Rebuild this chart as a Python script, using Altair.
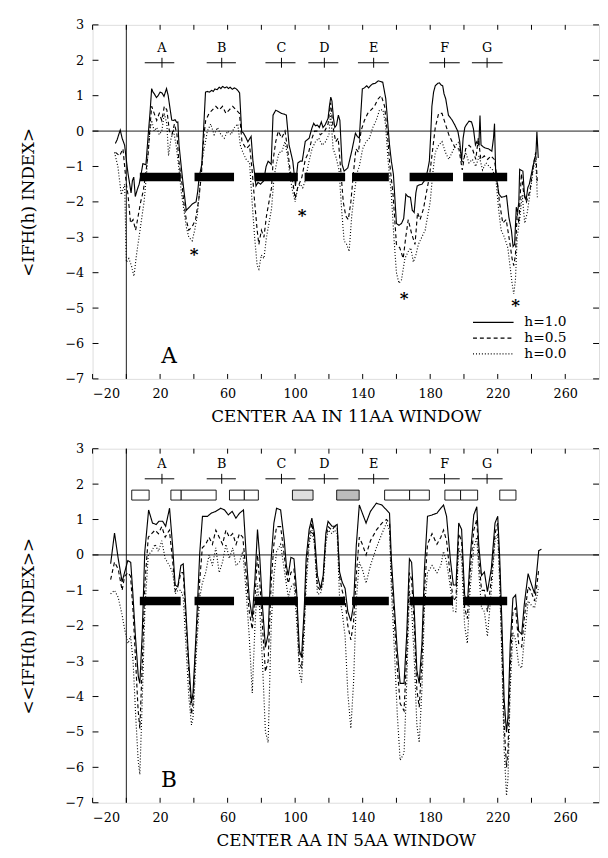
import altair as alt
import pandas as pd

FONT = "DejaVu Serif"

# ---------------- data ----------------
SERIES = ["h=1.0", "h=0.5", "h=0.0"]

# Panel A: 11-residue window
A_H10 = [(-6.5,-0.35),(-5.5,-0.25),(-4.5,-0.1),(-3.6,0.03),(-2.5,-0.2),(-1.0,-0.4),(0.2,-0.9),(1.0,-1.2),(2.0,-1.5),(2.8,-1.75),(3.6,-1.4),(4.4,-1.3),(5.3,-1.85),(6.5,-1.65),(7.6,-1.5),(8.8,-1.2),(9.8,-0.92),(11.6,-0.95),(12.8,-0.2),(14.0,0.5),(15.0,1.2),(15.8,1.1),(16.6,1.05),(17.8,0.95),(18.8,1.0),(20.0,1.1),(21.1,1.08),(22.3,0.98),(23.8,1.2),(24.8,1.0),(25.6,0.73),(26.9,0.31),(27.8,0.3),(28.9,0.32),(29.8,0.25),(30.5,0.26),(31.2,-0.39),(32.8,-1.13),(34.1,-1.68),(35.5,-2.24),(37.3,-2.15),(39.1,-2.06),(41.3,-2.0),(42.3,-1.7),(43.1,-1.31),(44.7,-0.94),(45.8,0.08),(46.9,1.1),(48.0,1.12),(49.2,1.1),(50.5,1.15),(51.5,1.12),(52.5,1.19),(53.8,1.17),(55.0,1.24),(56.0,1.2),(57.0,1.26),(58.3,1.22),(59.5,1.25),(60.5,1.2),(61.5,1.24),(62.8,1.18),(64.0,1.22),(64.9,1.2),(66.0,1.15),(67.1,1.08),(68.3,-0.01),(69.3,-0.05),(70.5,-0.15),(72.0,-0.3),(73.9,-0.15),(75.0,-0.85),(76.0,-1.2),(76.8,-1.55),(78.0,-1.45),(79.5,-1.5),(81.3,-1.41),(82.8,-1.0),(84.0,-0.85),(85.8,-0.94),(86.9,0.45),(88.5,0.59),(90.0,0.55),(91.9,0.5),(93.5,0.48),(94.8,0.45),(96.4,-0.39),(98.6,-0.85),(100.2,-1.55),(101.6,-0.9),(103.0,-0.85),(104.2,-0.85),(106.0,-0.29),(108.3,-0.2),(109.9,0.08),(111.0,0.22),(112.0,0.15),(113.2,0.17),(114.3,0.1),(115.5,0.26),(116.5,0.1),(117.7,0.17),(119.5,0.36),(120.3,0.7),(121.1,0.96),(121.8,0.85),(122.7,0.36),(123.5,0.1),(124.5,0.17),(125.6,0.45),(126.5,0.3),(127.8,-0.94),(129.0,-1.13),(131.2,-1.04),(133.5,-0.57),(135.7,-0.06),(136.8,-0.15),(138.0,-0.2),(139.8,1.19),(141.0,1.22),(142.4,1.28),(143.5,1.22),(145.0,1.3),(145.8,1.33),(147.5,1.35),(149.2,1.42),(150.5,1.4),(151.9,1.38),(153.7,0.91),(155.9,-0.39),(157.0,-0.85),(158.2,-1.22),(160.0,-2.61),(161.5,-2.66),(163.0,-2.61),(164.3,-2.47),(165.6,-1.78),(166.8,-1.85),(168.3,-1.87),(169.4,-2.24),(170.5,-2.3),(171.5,-1.75),(172.3,-1.55),(173.5,-1.52),(175.1,-1.5),(177.2,-1.36),(178.5,-1.1),(179.5,-0.85),(180.3,-0.11),(181.0,0.7),(182.0,1.1),(183.0,1.28),(184.5,1.35),(185.5,1.36),(186.5,1.3),(187.4,1.28),(188.2,1.05),(189.2,0.91),(190.8,0.45),(193.0,0.31),(194.6,0.17),(196.4,-0.01),(197.5,-0.3),(198.6,-0.85),(199.5,-0.2),(200.5,0.1),(201.3,0.17),(203.0,0.28),(204.5,0.26),(205.6,0.07),(206.8,-0.39),(207.6,-0.3),(208.8,-0.4),(209.5,0.44),(210.1,-0.39),(211.5,-0.45),(212.7,-0.48),(214.5,-0.5),(216.5,-0.57),(217.5,-0.2),(218.1,0.21),(218.8,-1.2),(219.8,-1.5),(220.7,-1.78),(222.3,-1.87),(224.0,-1.85),(225.2,-1.82),(226.6,-2.43),(228.1,-2.8),(229.1,-3.26),(230.0,-3.2),(231.0,-2.15),(231.8,-2.3),(232.5,-2.0),(233.0,-1.08),(234.9,-1.13),(235.8,-1.78),(236.8,-1.96),(237.8,-1.6),(238.7,-1.5),(240.7,-1.04),(242.0,-0.75),(242.6,-0.67),(243.2,-0.02),(244.0,-0.76)]

A_H05 = [(-6.4,-0.6),(-4,-0.7),(-2,-0.5),(0,-1.5),(1,-1.8),(2.5,-2.6),(4,-2.5),(5.5,-2.8),(7,-2.4),(8.5,-2.0),(10,-1.7),(11.5,-1.2),(13,-0.6),(14,0.1),(15,0.7),(16.5,0.5),(18,0.3),(19.5,0.5),(21,0.3),(22.5,0.7),(24,0.6),(25.5,0.0),(27,-0.1),(28.5,0.2),(30,-0.1),(31,-0.8),(33,-1.5),(34,-2.0),(35.5,-2.5),(37,-2.8),(39,-2.7),(41,-2.5),(43,-1.9),(44.5,-1.2),(46,-0.1),(47,0.3),(49,0.5),(51,0.6),(53,0.7),(55,0.6),(57,0.7),(59,0.5),(61,0.6),(63,0.7),(65,0.6),(67,0.5),(68.5,-0.3),(71,-0.5),(73,-0.4),(74.5,-1.1),(76,-2.0),(77.5,-2.8),(78.5,-3.2),(80,-2.8),(81.5,-3.0),(83,-2.4),(84.5,-2.0),(86,-1.6),(87,-0.8),(88.5,-0.3),(90,0.0),(92,-0.2),(94,0.0),(95.5,-0.5),(97,-1.1),(98.5,-1.4),(100,-1.9),(101.5,-1.6),(104,-1.3),(106,-0.8),(108,-0.6),(110,-0.2),(111.5,0.0),(113,0.0),(115,-0.1),(117.5,0.0),(119.5,0.2),(121,0.8),(122.5,0.1),(124,-0.3),(125.5,-0.2),(127,-1.1),(128.5,-2.0),(130,-2.4),(131.5,-2.5),(133,-2.0),(134.5,-1.2),(136,-0.5),(137.5,-0.6),(139,0.0),(141,0.3),(143,0.5),(145,0.6),(147,0.7),(149,0.9),(151,1.0),(153,0.7),(154.5,0.0),(156,-0.9),(158,-1.8),(160,-3.2),(162,-3.3),(164,-3.6),(165.5,-3.0),(167,-2.5),(169,-2.9),(171,-3.2),(172.5,-2.3),(174,-2.5),(176,-2.2),(177.5,-1.8),(179.5,-1.3),(181,-0.7),(183,0.1),(185,0.5),(187,0.5),(189,0.2),(191,-0.1),(193,-0.3),(195,-0.5),(197,-0.5),(199,-1.1),(201,-0.5),(203,-0.4),(205,-0.5),(207,-0.8),(208.5,-0.2),(210,-0.8),(212,-0.7),(214,-0.8),(216,-0.7),(218,-0.8),(219.5,-1.3),(221,-2.0),(223,-2.6),(225,-2.5),(227,-3.1),(228.5,-3.6),(229.5,-3.8),(230.5,-3.5),(231.5,-2.3),(232.5,-2.6),(234,-1.2),(235.5,-1.8),(237,-2.0),(239,-1.7),(241,-1.0),(242.5,-0.6),(243.5,-1.5)]

A_H00 = [(-7,-0.6),(-5,-1.0),(-3,-1.8),(-1,-1.5),(0,-3.7),(1.5,-3.6),(3,-3.8),(4.5,-4.1),(6,-3.5),(7.5,-3.0),(9,-2.5),(10.5,-2.0),(12,-1.2),(13,-0.5),(14,0.0),(15,0.3),(16.5,0.0),(18,0.1),(19.5,-0.1),(21,0.0),(22.5,0.5),(24,0.2),(25,-0.7),(26.5,-0.2),(28,0.0),(29.5,-0.4),(31,-1.0),(32.5,-1.7),(34,-2.2),(35.5,-2.7),(37,-3.0),(39,-3.1),(40.5,-2.8),(42,-2.4),(43.5,-1.6),(45,-0.8),(46.5,-0.4),(48,0.0),(50,0.2),(52,-0.1),(54,0.1),(56,-0.1),(58,-0.2),(60,0.0),(62,-0.1),(64,0.1),(66,0.2),(67.5,-0.4),(69,-0.6),(71,-0.8),(73,-0.9),(74.5,-2.0),(76,-3.0),(77.5,-3.8),(78.5,-3.9),(80,-3.5),(81.5,-3.6),(83,-3.0),(84.5,-2.6),(86,-2.2),(87.5,-1.3),(89,-0.9),(90.5,-0.6),(92,-0.6),(94,-0.3),(95.5,-0.7),(97,-1.3),(98.5,-1.7),(100,-2.0),(101.5,-1.6),(103,-1.5),(104.5,-1.6),(106,-1.4),(108,-0.9),(110,-0.5),(112,-0.3),(114,-0.2),(116,-0.4),(118,-0.3),(120,-0.1),(121,0.5),(122.5,-0.5),(124,-0.7),(126,-1.1),(127.5,-2.2),(129,-3.1),(130.5,-3.2),(132,-3.4),(133.5,-2.4),(135,-1.8),(136.5,-1.2),(138,-1.0),(140,-0.5),(142,-0.3),(144,-0.2),(146,0.1),(148,0.3),(150,0.6),(152,0.6),(153.5,0.2),(155,-0.8),(157,-1.8),(158.5,-3.0),(160,-4.0),(161.5,-4.3),(163,-4.2),(165,-3.6),(167,-3.4),(168.5,-3.3),(170,-3.7),(171.5,-3.5),(173,-3.2),(175,-3.0),(177,-2.8),(178.5,-2.4),(180,-2.0),(181.5,-1.2),(183,-0.6),(185,-0.4),(187,-0.3),(189,-0.6),(191,-0.8),(193,-0.6),(195,-0.4),(197,-0.3),(199,-0.9),(201,-0.6),(203,-0.9),(205,-0.8),(207,-1.0),(209,-0.7),(211,-1.1),(213,-0.9),(215,-1.0),(217,-1.1),(219,-1.4),(220.5,-2.2),(222,-2.8),(224,-3.0),(226,-3.3),(227.5,-3.9),(228.5,-4.3),(229.5,-4.6),(230.5,-4.2),(231.5,-3.0),(233,-2.5),(234.5,-1.8),(236,-2.6),(237.5,-2.3),(239,-1.8),(241,-1.1),(242.5,-0.8),(243.5,-1.9)]

# Panel B: 5-residue window
B_H10 = [(-9.3,-0.25),(-7.0,0.62),(-4.8,-0.11),(-2.5,-0.76),(-0.95,-0.48),(0.87,-0.16),(2.6,-0.21),(3.8,-1.04),(5.3,-2.24),(7.1,-3.44),(8.0,-3.63),(9.4,-2.24),(10.9,0.07),(13.2,1.27),(15.5,0.9),(17.7,0.86),(19.3,0.95),(21.5,0.95),(23.3,0.81),(25.6,1.32),(27.4,0.26),(28.9,-0.85),(30.5,-0.9),(32.3,-0.3),(33.7,-0.25),(35.0,-1.32),(36.8,-2.89),(38.6,-4.18),(39.5,-3.9),(41.3,-2.24),(43.5,0.07),(45.1,1.09),(48.1,1.09),(50.3,1.18),(53.0,1.23),(55.9,1.32),(58.2,1.27),(60.4,1.13),(62.7,1.23),(64.9,1.04),(67.1,1.18),(69.4,1.27),(70.9,0.07),(72.8,-1.22),(74.6,-1.78),(76.2,-0.67),(77.7,0.72),(79.1,-0.11),(80.6,-1.41),(82.4,-2.61),(84.0,-2.24),(85.8,-0.11),(87.4,0.9),(89.0,1.32),(91.4,1.27),(93.5,0.44),(94.8,-0.3),(95.9,-0.58),(97.5,-0.07),(99.3,-0.11),(100.9,-1.04),(102.5,-2.7),(103.8,-2.89),(105.4,-1.5),(106.5,-0.11),(108.3,0.72),(109.9,1.04),(111.4,0.62),(113.2,-0.58),(115.0,-0.95),(116.6,-0.58),(118.2,0.62),(119.5,0.95),(121.8,0.81),(123.3,0.81),(124.9,0.86),(126.3,-0.48),(127.8,-0.76),(129.6,-0.95),(131.2,-1.6),(133.0,-1.87),(134.6,-1.41),(136.2,0.26),(138.0,1.41),(139.8,1.18),(142.0,0.9),(144.6,1.23),(148.1,1.46),(151.4,1.41),(154.1,1.27),(155.9,1.18),(157.0,-0.11),(158.7,-1.41),(160.5,-2.7),(162.2,-3.63),(164.5,-3.63),(166.1,-2.24),(167.7,-0.11),(169.0,-0.21),(170.6,-1.6),(172.1,-3.26),(173.5,-3.63),(175.1,-2.52),(176.6,-0.39),(178.4,1.09),(181.1,1.13),(184.0,1.18),(186.3,1.32),(187.9,1.41),(189.7,1.09),(191.9,-0.11),(193.7,-0.85),(195.3,-0.85),(196.9,0.9),(198.6,0.72),(200.4,-1.13),(202.0,-1.41),(203.6,-0.11),(205.8,1.13),(207.6,1.36),(208.8,0.26),(210.4,-0.58),(212.1,-0.48),(213.9,-1.04),(216.2,-0.39),(218.4,0.9),(220.0,1.09),(221.2,-0.11),(222.5,-1.96),(223.8,-4.09),(225.2,-5.01),(226.1,-4.55),(227.4,-2.52),(229.0,-1.22),(230.6,-1.13),(232.4,-2.15),(234.2,-2.24),(235.7,-1.41),(238.0,-0.53),(239.5,-0.76),(241.8,-1.09),(243.1,-0.48),(244.3,0.12),(245.9,0.16)]

B_H05 = [(-9.3,-0.7),(-7,-0.2),(-4.8,-0.4),(-2.5,-1.0),(-1,-0.6),(1,-0.5),(2.5,-0.6),(4,-1.6),(5.5,-3.0),(7,-4.4),(8,-4.9),(9.5,-3.0),(11,-0.8),(13,0.5),(15,0.6),(17,0.7),(19,0.6),(21,0.8),(23,0.5),(25.5,0.7),(27.5,-0.2),(29,-1.0),(30.5,-0.9),(32.3,-0.5),(33.7,-0.5),(35,-1.6),(37,-3.3),(38.6,-4.5),(39.5,-4.2),(41.3,-2.5),(43.5,-0.7),(45,0.2),(47,0.3),(49,0.5),(51,0.3),(53,0.7),(55,0.5),(57,0.3),(59,0.7),(61,0.5),(63,0.6),(65,0.3),(67,0.6),(69,0.5),(70.9,-0.5),(72.8,-1.6),(74.6,-2.1),(76.2,-1.2),(77.7,0.0),(79.1,-0.8),(80.6,-2.0),(82.4,-3.3),(84,-3.0),(85.8,-0.8),(87.4,0.3),(89,0.8),(91.4,0.8),(93.5,0.0),(95,-0.6),(96,-0.8),(97.5,-0.5),(99.3,-0.4),(100.9,-1.4),(102.5,-3.0),(103.8,-3.2),(105.4,-1.9),(106.5,-0.5),(108.3,0.5),(109.9,0.9),(111.4,0.4),(113.2,-0.9),(115,-1.0),(116.6,-0.7),(118.2,0.5),(119.5,0.8),(121.8,0.7),(123.3,0.8),(124.9,0.8),(126.3,-0.6),(127.8,-1.0),(129.6,-1.3),(131.2,-2.0),(133,-2.4),(134.6,-1.9),(136.2,-0.6),(138,0.5),(139.8,0.3),(142,0.0),(144.6,0.4),(148.1,0.7),(151.4,0.9),(154.1,1.0),(155.9,0.9),(157,-0.5),(158.7,-1.8),(160.5,-3.2),(162.2,-4.2),(164.5,-4.4),(166.1,-2.8),(167.7,-0.5),(169,-0.7),(170.6,-2.0),(172.1,-3.8),(173.5,-4.3),(175.1,-3.0),(176.6,-1.0),(178.4,0.3),(181.1,0.6),(184,0.3),(186.3,0.5),(187.9,0.7),(189.7,0.4),(191.9,-0.6),(193.7,-1.3),(195.3,-1.2),(196.9,0.6),(198.6,0.4),(200.4,-1.5),(202,-1.8),(203.6,-0.5),(205.8,0.7),(207.6,1.0),(208.8,-0.1),(210.4,-1.0),(212.1,-1.0),(213.9,-1.6),(216.2,-0.7),(218.4,0.6),(220,0.9),(221.2,-0.5),(222.5,-2.6),(223.8,-4.8),(225.2,-6.0),(226.1,-5.5),(227.4,-3.2),(229,-1.6),(230.6,-1.5),(232.4,-2.5),(234.2,-2.6),(235.7,-1.8),(238,-0.9),(239.5,-1.0),(241.8,-1.3),(243.1,-0.9),(244.3,-0.4)]

B_H00 = [(-9.3,-1.1),(-7,-1.0),(-4.8,-1.2),(-2.5,-1.7),(-1,-2.1),(1,-2.5),(2.5,-2.3),(4,-3.0),(5.5,-4.5),(7,-5.8),(8,-6.2),(9.5,-4.0),(11,-1.5),(13,0.0),(15,0.1),(17,0.3),(19,0.1),(21,0.4),(23,-0.1),(25.5,-0.3),(27.5,-0.5),(29,-1.1),(30.5,-1.0),(32.3,-1.0),(33.7,-1.2),(35,-2.3),(37,-4.0),(38.6,-4.8),(39.5,-4.6),(41.3,-2.9),(43.5,-1.2),(45,-0.8),(47,-0.5),(49,0.0),(51,-0.3),(53,0.2),(55,-0.5),(57,-0.2),(59,0.3),(61,-0.1),(63,0.2),(65,-0.3),(67,-0.2),(69,0.1),(70.9,-1.0),(72.8,-2.3),(74.6,-3.9),(76.2,-2.0),(77.7,-0.8),(79.1,-1.6),(80.6,-3.0),(82.4,-5.0),(84,-5.3),(85.8,-2.0),(87.4,-0.6),(89,0.1),(91.4,0.3),(93.5,-0.4),(95,-0.9),(96,-1.2),(97.5,-0.9),(99.3,-0.8),(100.9,-1.9),(102.5,-3.3),(103.8,-3.6),(105.4,-2.2),(106.5,-0.9),(108.3,0.3),(109.9,0.7),(111.4,0.3),(113.2,-1.1),(115,-1.1),(116.6,-0.8),(118.2,0.3),(119.5,0.7),(121.8,0.6),(123.3,0.7),(124.9,0.6),(126.3,-1.2),(127.8,-1.6),(129.6,-2.3),(131.2,-3.9),(133,-4.9),(134.6,-3.6),(136.2,-1.3),(138,-0.2),(139.8,-0.4),(142,-0.8),(144.6,-0.3),(148.1,0.2),(151.4,0.6),(154.1,0.9),(155.9,0.7),(157,-1.0),(158.7,-2.6),(160.5,-4.5),(162.2,-5.8),(164.5,-5.6),(166.1,-3.6),(167.7,-1.0),(169,-1.5),(170.6,-3.0),(172.1,-4.8),(173.5,-5.3),(175.1,-3.8),(176.6,-1.5),(178.4,-0.5),(181.1,-0.3),(184,-0.5),(186.3,-0.3),(187.9,0.1),(189.7,-0.2),(191.9,-0.9),(193.7,-1.6),(195.3,-1.6),(196.9,0.2),(198.6,-0.1),(200.4,-2.0),(202,-2.5),(203.6,-1.0),(205.8,0.2),(207.6,0.5),(208.8,-0.5),(210.4,-1.5),(212.1,-1.6),(213.9,-2.3),(216.2,-1.0),(218.4,0.4),(220,0.6),(221.2,-0.9),(222.5,-3.0),(223.8,-5.5),(225.2,-6.8),(226.1,-6.3),(227.4,-3.8),(229,-2.2),(230.6,-2.4),(232.4,-3.1),(234.2,-3.2),(235.7,-2.4),(238,-1.3),(239.5,-1.4),(241.8,-1.5),(243.1,-1.2),(244.3,-0.9)]

# helix segments (residue ranges) and their band
HELIX_START = [8.0, 40.4, 75.9, 105.6, 133.7, 167.8, 199.5]
HELIX_END = [32.2, 63.8, 101.6, 129.6, 155.5, 193.5, 225.6]
HELIX_BAND = (-1.18, -1.42)

# labelled segments A..G with their crosshair extents
SEG_NAMES = ["A", "B", "C", "D", "E", "F", "G"]
SEG_CENTER = [21.1, 56.5, 91.9, 117.3, 146.5, 188.5, 213.7]
SEG_START = [10.9, 47.6, 82.4, 107.8, 137.2, 179.5, 204.7]
SEG_END = [28.4, 64.9, 100.2, 125.6, 155.5, 197.5, 222.9]

# asterisks in panel A
STAR_X = [40.2, 104.2, 164.5, 230.6]
STAR_Y = [-3.40, -2.29, -4.63, -4.84]

# boxes in panel B
BOX_START = [3.2, 26.4, 32.5, 61.1, 69.9, 98.4, 124.6, 153.0, 167.8, 188.7, 198.0, 221.2]
BOX_END = [13.5, 32.5, 53.2, 69.9, 78.2, 110.6, 137.9, 167.8, 179.5, 198.0, 208.1, 230.8]
BOX_KIND = ["open", "open", "open", "open", "open", "stipple", "stipple2",
            "open", "open", "open", "open", "open"]
BOX_BAND = (1.55, 1.83)

X_LABELS = [-20, 20, 60, 100, 140, 180, 220, 260]
X_TICKS = list(range(-20, 280, 20))
Y_TICKS = list(range(-7, 4))

W, H = 515, 360
XS = alt.Scale(domain=[-20, 280], nice=False, zero=False)
YS = alt.Scale(domain=[-7, 3], nice=False, zero=False)


def series_df(h10, h05, h00):
    rows = []
    for name, pts in zip(SERIES, (h10, h05, h00)):
        rows += [{"x": x, "y": y, "h": name} for x, y in pts]
    return pd.DataFrame(rows)


def x_axis(title):
    return alt.Axis(values=X_LABELS, ticks=False, domain=False, grid=False, title=title,
                    labelFontSize=13, labelPadding=9, labelFont=FONT, labelColor="black",
                    titleFont=FONT, titleFontSize=17, titleFontWeight="normal",
                    titleColor="black", titlePadding=8)


def y_axis(title):
    return alt.Axis(values=Y_TICKS, ticks=False, domain=False, grid=False, title=title,
                    labelFontSize=13, labelPadding=9, labelFont=FONT, labelColor="black",
                    titleFont=FONT, titleFontSize=17, titleFontWeight="normal",
                    titleColor="black", titlePadding=28)


def panel(letter, df, ytitle, xtitle, cross_y, label_y, show_legend, stars=False, boxes=False):
    XA = x_axis(xtitle)
    YA = y_axis(ytitle)

    def X(f):
        return alt.X(f, type="quantitative", scale=XS, axis=XA, title=xtitle)

    def Y(f):
        return alt.Y(f, type="quantitative", scale=YS, axis=YA, title=ytitle)

    dash_scale = alt.Scale(domain=SERIES, range=[[1, 0], [4, 3], [1, 2]])
    if show_legend:
        legend = alt.Legend(orient="none", legendX=386, legendY=295, title=None,
                            symbolType="stroke", symbolSize=1700, symbolStrokeWidth=1.2,
                            symbolStrokeColor="black", labelFont=FONT, labelFontSize=14,
                            labelColor="black", labelOffset=10, rowPadding=1, padding=0,
                            clipHeight=15)
    else:
        legend = None

    layers = []
    layers.append(
        alt.Chart(df).mark_line(color="black", strokeWidth=1.15, clip=True).encode(
            x=X("x"),
            y=Y("y"),
            strokeDash=alt.StrokeDash("h:N", scale=dash_scale, legend=legend),
        )
    )

    zero = pd.DataFrame({"y": [0.0]})
    layers.append(alt.Chart(zero).mark_rule(color="black", strokeWidth=0.9).encode(y=Y("y")))
    vzero = pd.DataFrame({"x": [0.0]})
    layers.append(alt.Chart(vzero).mark_rule(color="black", strokeWidth=0.9).encode(x=X("x")))

    helix = pd.DataFrame({"s": HELIX_START, "e": HELIX_END,
                          "y1": [HELIX_BAND[0]] * 7, "y2": [HELIX_BAND[1]] * 7})
    layers.append(alt.Chart(helix).mark_rect(color="black").encode(
        x=X("s"), x2="e", y=Y("y1"), y2="y2"))

    seg = pd.DataFrame({"name": SEG_NAMES, "c": SEG_CENTER, "s": SEG_START, "e": SEG_END,
                        "cy": [cross_y] * 7, "ly": [label_y] * 7,
                        "t1": [cross_y - 0.14] * 7, "t2": [cross_y + 0.14] * 7})
    layers.append(alt.Chart(seg).mark_rule(color="black", strokeWidth=1).encode(
        x=X("s"), x2="e", y=Y("cy")))
    layers.append(alt.Chart(seg).mark_rule(color="black", strokeWidth=1).encode(
        x=X("c"), y=Y("t1"), y2="t2"))
    layers.append(alt.Chart(seg).mark_text(font=FONT, fontSize=13, color="black",
                                           baseline="middle").encode(
        x=X("c"), y=Y("ly"), text="name:N"))

    if stars:
        st = pd.DataFrame({"x": STAR_X, "y": STAR_Y})
        layers.append(alt.Chart(st).mark_text(text="*", font=FONT, fontSize=17, fontWeight="bold",
                                              color="black", baseline="middle", dy=4).encode(
            x=X("x"), y=Y("y")))

    if boxes:
        bx = pd.DataFrame({"s": BOX_START, "e": BOX_END, "kind": BOX_KIND,
                           "y1": [BOX_BAND[0]] * len(BOX_START),
                           "y2": [BOX_BAND[1]] * len(BOX_START)})
        layers.append(alt.Chart(bx).mark_rect(stroke="black", strokeWidth=0.9).encode(
            x=X("s"), x2="e", y=Y("y1"), y2="y2",
            fill=alt.Fill("kind:N", scale=alt.Scale(domain=["open", "stipple", "stipple2"],
                                                    range=["white", "#dedede", "#bcbcbc"]),
                          legend=None)))

    big = pd.DataFrame({"x": [25.3], "y": [-6.35], "t": [letter]})
    layers.append(alt.Chart(big).mark_text(font=FONT, fontSize=22, color="black",
                                           baseline="middle").encode(
        x=X("x"), y=Y("y"), text="t:N"))

    # inward ticks on all four sides
    xt = pd.DataFrame({"x": X_TICKS})
    yt = pd.DataFrame({"y": Y_TICKS})
    layers.append(alt.Chart(xt).mark_rule(color="black", strokeWidth=1).encode(
        x=X("x"), y=alt.value(H), y2=alt.value(H - 5)))
    layers.append(alt.Chart(xt).mark_rule(color="black", strokeWidth=1).encode(
        x=X("x"), y=alt.value(0), y2=alt.value(5)))
    layers.append(alt.Chart(yt).mark_rule(color="black", strokeWidth=1).encode(
        y=Y("y"), x=alt.value(0), x2=alt.value(6)))
    layers.append(alt.Chart(yt).mark_rule(color="black", strokeWidth=1).encode(
        y=Y("y"), x=alt.value(W), x2=alt.value(W - 6)))

    return alt.layer(*layers).resolve_scale(fill="independent").properties(width=W, height=H)


dfA = series_df(A_H10, A_H05, A_H00)
dfB = series_df(B_H10, B_H05, B_H00)

pA = panel("A", dfA, "<IFH(h) INDEX>", "CENTER AA IN 11AA WINDOW", 1.93, 2.35, True, stars=True)
pB = panel("B", dfB, "<<IFH(h) INDEX>>", "CENTER AA IN 5AA WINDOW", 2.15, 2.57, False, boxes=True)

chart = (
    alt.vconcat(pA, pB, spacing=17)
    .resolve_scale(strokeDash="independent")
    .properties(padding={"left": 11, "top": 3, "right": 0, "bottom": 0}, background="white")
    .configure_view(stroke="black", strokeWidth=1)
    .configure(font=FONT)
)

chart.save("out.html", embed_options={"renderer": "svg", "actions": False})
